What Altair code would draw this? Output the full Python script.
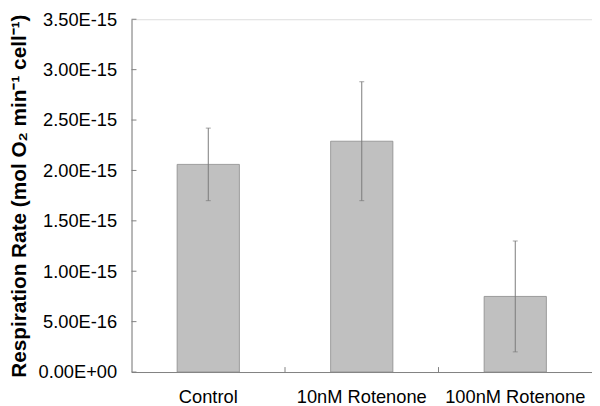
import altair as alt
import pandas as pd

categories = ["Control", "10nM Rotenone", "100nM Rotenone"]
means = [2.06e-15, 2.29e-15, 0.75e-15]
errors = [0.36e-15, 0.59e-15, 0.55e-15]
y_ticks = [0, 0.5e-15, 1.0e-15, 1.5e-15, 2.0e-15, 2.5e-15, 3.0e-15, 3.5e-15]

df = pd.DataFrame({
    "cat": categories,
    "mean": means,
    "lo": [m - e for m, e in zip(means, errors)],
    "hi": [m + e for m, e in zip(means, errors)],
})
ticks_df = pd.DataFrame({"v": y_ticks})
bounds_df = pd.DataFrame({"cat": categories[1:]})

W, H = 466, 357
FONT = "Liberation Sans"

xsc = alt.Scale(domain=categories, paddingInner=0, paddingOuter=0)
ysc = alt.Scale(domain=[0, 3.5e-15], nice=False)

x_enc = alt.X("cat:N", scale=xsc, sort=categories, title=None,
              axis=alt.Axis(labelAngle=0, labelFontSize=18.5, labelFont=FONT,
                            labelColor="black", labelPadding=16, ticks=False,
                            domainColor="#808080", domainWidth=1))
y_enc = alt.Y("mean:Q", scale=ysc,
              title="Respiration Rate (mol O\u2082 min\u207b\u00b9 cell\u207b\u00b9)",
              axis=alt.Axis(values=y_ticks, ticks=False, labelFontSize=18.5,
                            labelFont=FONT, labelColor="black", labelPadding=15,
                            labelExpr="datum.value == 0 ? '0.00E+00' : replace(format(datum.value, '.2e'), 'e', 'E')",
                            titleFont=FONT, titleFontSize=21, titleFontWeight="bold",
                            titleColor="black", titlePadding=9,
                            domainColor="#808080", domainWidth=1, grid=False))

base = alt.Chart(df)

bars = base.mark_bar(color="#C0C0C0", stroke="#8a8a8a", strokeWidth=0.8, width=63).encode(
    x=x_enc, y=y_enc)

err_rule = base.mark_rule(color="#7a7a7a", strokeWidth=1).encode(
    x=alt.X("cat:N", scale=xsc, sort=categories),
    y=alt.Y("lo:Q", scale=ysc), y2="hi:Q")

cap_hi = base.mark_tick(color="#7a7a7a", thickness=1, size=5, orient="horizontal").encode(
    x=alt.X("cat:N", scale=xsc, sort=categories), y=alt.Y("hi:Q", scale=ysc))
cap_lo = base.mark_tick(color="#7a7a7a", thickness=1, size=5, orient="horizontal").encode(
    x=alt.X("cat:N", scale=xsc, sort=categories), y=alt.Y("lo:Q", scale=ysc))

yticks = alt.Chart(ticks_df).mark_rule(color="#808080", strokeWidth=1).encode(
    y=alt.Y("v:Q", scale=ysc), x=alt.value(0), x2=alt.value(5))

xticks = alt.Chart(bounds_df).mark_rule(color="#808080", strokeWidth=1).encode(
    x=alt.X("cat:N", scale=xsc, sort=categories, bandPosition=0),
    y=alt.value(H), y2=alt.value(H - 5))

chart = alt.layer(bars, err_rule, cap_hi, cap_lo, yticks, xticks).properties(
    width=W, height=H,
    autosize=alt.AutoSizeParams(type="none"),
    padding={"left": 125, "top": 9, "right": 0, "bottom": 32},
).configure_view(stroke="#c8c8c8", strokeWidth=1).configure(background="white")

chart.save("out.html", embed_options={"renderer": "svg", "actions": False})
